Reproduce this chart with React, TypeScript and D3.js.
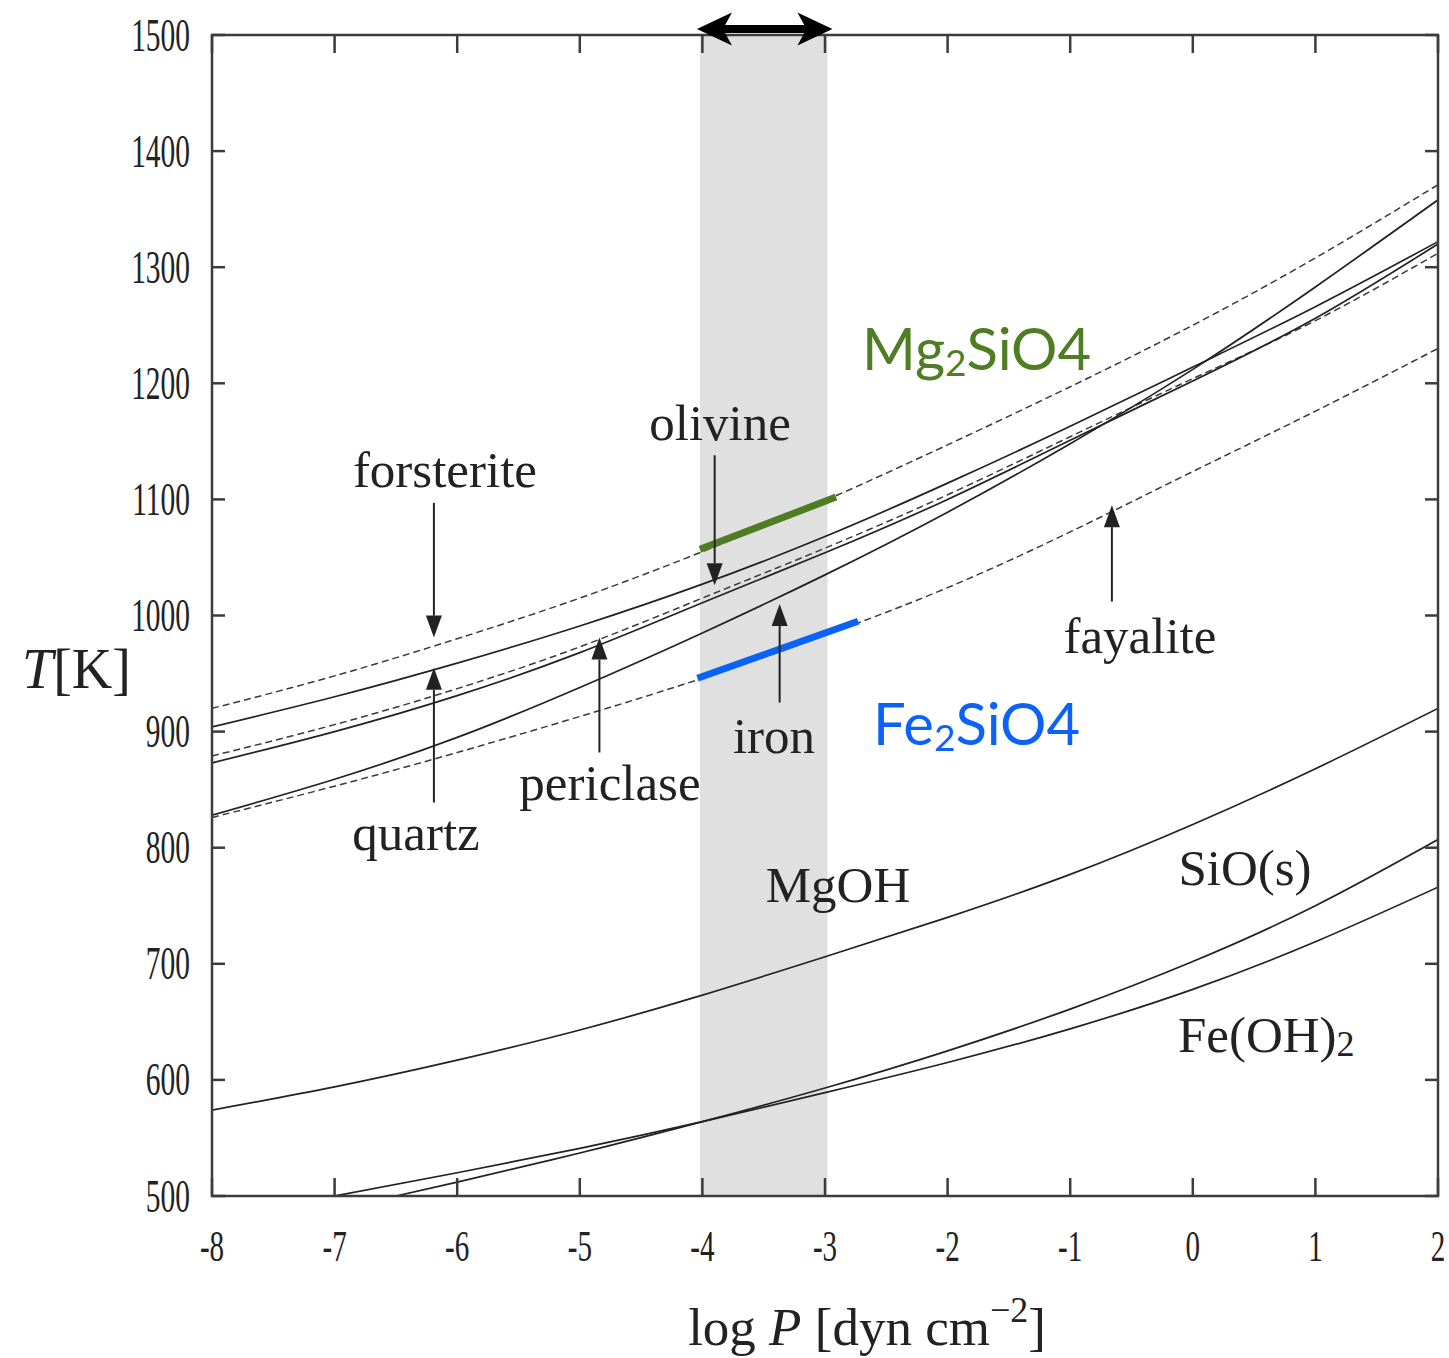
import React from "react";
import * as d3 from "d3";

// log P grid shared by the upper condensation curves
const logP = [-8, -7, -6, -5, -4, -3, -2, -1, 0, 1, 2];

// condensation temperatures T [K]
const forsterite = [920, 948, 980, 1015, 1055, 1099, 1147, 1197, 1250, 1308, 1371];
const quartz = [904, 930, 959, 991, 1027, 1068, 1114, 1163, 1214, 1266, 1322];
const periclase = [879, 906, 937, 973, 1015, 1058, 1104, 1154, 1204, 1254, 1312];
const olivine = [873, 900, 931, 968, 1011, 1054, 1100, 1151, 1202, 1256, 1320];
const iron = [828, 859, 895, 938, 985, 1035, 1089, 1148, 1212, 1283, 1358];
const fayalite = [826, 853, 882, 913, 946, 983, 1024, 1072, 1124, 1176, 1230];
const mgoh = [574, 594, 617, 643, 673, 706, 740, 777, 820, 868, 920];

const sioP = [-6.5, -6, -5, -4, -3, -2, -1, 0, 1, 2];
const sioT = [500, 512, 537, 564, 593, 625, 661, 702, 750, 807];
const feoh2P = [-7, -6, -5, -4, -3, -2, -1, 0, 1, 2];
const feoh2T = [500, 520, 541, 564, 589, 615, 644, 678, 719, 766];

// highlighted pressure window and coloured segments [logP, T]
const band = [-4.02, -2.98];
const mgSegment = [[-4.02, 1057], [-2.91, 1102]];
const feSegment = [[-4.04, 946], [-2.73, 995]];

// axis ticks
const xTicks = [-8, -7, -6, -5, -4, -3, -2, -1, 0, 1, 2];
const yTicks = [500, 600, 700, 800, 900, 1000, 1100, 1200, 1300, 1400, 1500];

// labelled arrows: [logP, T start, T tip]
const arrows = [
  [-6.19, 1097, 981], // forsterite
  [-6.19, 839, 955], // quartz
  [-4.84, 882, 981], // periclase
  [-3.9, 1138, 1026], // olivine
  [-3.37, 925, 1010], // iron
  [-0.66, 1012, 1095], // fayalite
];

// text labels: [text, logP, T]
const labels = [
  ["forsterite", -6.1, 1110.7],
  ["olivine", -3.856, 1151],
  ["quartz", -6.336, 798],
  ["periclase", -4.754, 841],
  ["iron", -3.416, 881.6],
  ["fayalite", -0.431, 967.7],
  ["MgOH", -2.894, 753],
  ["SiO(s)", 0.426, 767.9],
];

const W = 1449;
const H = 1358;
const left = 212;
const right = 1438;
const top = 35;
const bottom = 1196;

const serif = "'Liberation Serif', 'Times New Roman', serif";
const sans = "Lato, 'Open Sans', sans-serif";
const green = "#4e7d23";
const blue = "#0b62f8";

export default function App() {
  const x = d3.scaleLinear().domain([-8, 2]).range([left, right]);
  const y = d3.scaleLinear().domain([500, 1500]).range([bottom, top]);
  const line = d3
    .line<[number, number]>()
    .x((d) => x(d[0]))
    .y((d) => y(d[1]))
    .curve(d3.curveNatural);

  const zipP = (ts: number[]) => logP.map((p, i) => [p, ts[i]] as [number, number]);
  const curves = [
    { d: zipP(forsterite), dashed: true },
    { d: zipP(quartz), dashed: false },
    { d: zipP(periclase), dashed: true },
    { d: zipP(olivine), dashed: false },
    { d: zipP(iron), dashed: false },
    { d: zipP(fayalite), dashed: true },
    { d: zipP(mgoh), dashed: false },
    { d: sioP.map((p, i) => [p, sioT[i]] as [number, number]), dashed: false },
    { d: feoh2P.map((p, i) => [p, feoh2T[i]] as [number, number]), dashed: false },
  ];

  const bx0 = x(band[0]);
  const bx1 = x(band[1]);
  const ay = 29;
  const headL = 35;
  const headH = 16.5;
  const a0 = bx0 - 3;
  const a1 = bx1 + 5;

  return (
    <svg
      width={W}
      height={H}
      style={{ position: "absolute", left: 0, top: 0, display: "block", background: "#fff" }}
    >
      <defs>
        <clipPath id="plotArea">
          <rect x={left} y={top} width={right - left} height={bottom - top} />
        </clipPath>
      </defs>

      {/* shaded pressure window */}
      <rect x={bx0} y={top} width={bx1 - bx0} height={bottom - top} fill="#e0e0e0" />

      {/* condensation curves */}
      <g clipPath="url(#plotArea)" fill="none">
        {curves.map((c, i) => (
          <path
            key={i}
            d={line(c.d) || ""}
            stroke={c.dashed ? "#3a3a3a" : "#222"}
            strokeWidth={c.dashed ? 1.5 : 1.7}
            strokeDasharray={c.dashed ? "7,4" : undefined}
          />
        ))}
      </g>

      {/* coloured highlight segments */}
      <line
        x1={x(mgSegment[0][0])}
        y1={y(mgSegment[0][1])}
        x2={x(mgSegment[1][0])}
        y2={y(mgSegment[1][1])}
        stroke={green}
        strokeWidth={7}
      />
      <line
        x1={x(feSegment[0][0])}
        y1={y(feSegment[0][1])}
        x2={x(feSegment[1][0])}
        y2={y(feSegment[1][1])}
        stroke={blue}
        strokeWidth={7}
      />

      {/* labelled arrows */}
      {arrows.map(([p, t0, t1], i) => {
        const ax = x(p);
        const y0 = y(t0);
        const y1 = y(t1);
        const dir = y1 > y0 ? 1 : -1;
        const hl = 22;
        const hw = 8;
        return (
          <g key={i} fill="#222" stroke="#222">
            <line x1={ax} y1={y0} x2={ax} y2={y1 - dir * hl} strokeWidth={2} />
            <path
              d={`M${ax},${y1} L${ax - hw},${y1 - dir * hl} L${ax + hw},${y1 - dir * hl} Z`}
              stroke="none"
            />
          </g>
        );
      })}

      {/* frame */}
      <rect
        x={left}
        y={top}
        width={right - left}
        height={bottom - top}
        fill="none"
        stroke="#3c3c3c"
        strokeWidth={2.5}
      />

      {/* ticks */}
      <g stroke="#3c3c3c" strokeWidth={2.5}>
        {xTicks.map((t) => (
          <g key={"x" + t}>
            <line x1={x(t)} x2={x(t)} y1={bottom} y2={bottom - 18} />
            <line x1={x(t)} x2={x(t)} y1={top} y2={top + 18} />
          </g>
        ))}
        {yTicks.map((t) => (
          <g key={"y" + t}>
            <line x1={left} x2={left + 13} y1={y(t)} y2={y(t)} />
            <line x1={right} x2={right - 13} y1={y(t)} y2={y(t)} />
          </g>
        ))}
      </g>

      {/* tick labels */}
      <g fontFamily={serif} fill="#222">
        {xTicks.map((t) => (
          <text
            key={"xl" + t}
            transform={`translate(${x(t)}, 1261) scale(0.66, 1)`}
            fontSize={44}
            textAnchor="middle"
          >
            {t}
          </text>
        ))}
        {yTicks.map((t) => (
          <text
            key={"yl" + t}
            transform={`translate(190, ${y(t) + 15.5}) scale(0.64, 1)`}
            fontSize={46}
            textAnchor="end"
          >
            {t}
          </text>
        ))}
      </g>

      {/* double-headed arrow over the window */}
      <g fill="#000">
        <rect x={a0 + 20} y={ay - 4} width={a1 - a0 - 40} height={8} />
        <path
          d={`M${a0},${ay} L${a0 + headL},${ay - headH} L${a0 + headL - 9},${ay} L${a0 + headL},${ay + headH} Z`}
        />
        <path
          d={`M${a1},${ay} L${a1 - headL},${ay - headH} L${a1 - headL + 9},${ay} L${a1 - headL},${ay + headH} Z`}
        />
      </g>

      {/* curve labels */}
      <g fontFamily={serif} fill="#222" fontSize={51}>
        {labels.map(([txt, p, t]) => (
          <text key={txt as string} x={x(p as number)} y={y(t as number)} textAnchor="middle">
            {txt}
          </text>
        ))}
        <text x={x(-0.121)} y={y(624)}>
          Fe(OH)
          <tspan fontSize={36} dy={4}>
            2
          </tspan>
        </text>
      </g>

      {/* mineral names */}
      <text x={x(-2.698)} y={y(1211.5)} fontFamily={sans} fontSize={58} fill={green}>
        Mg
        <tspan fontSize={37} dy={6}>
          2
        </tspan>
        <tspan dy={-6}>SiO4</tspan>
      </text>
      <text x={x(-2.608)} y={y(888.5)} fontFamily={sans} fontSize={58} fill={blue}>
        Fe
        <tspan fontSize={37} dy={6}>
          2
        </tspan>
        <tspan dy={-6}>SiO4</tspan>
      </text>

      {/* axis titles */}
      <text x={22} y={688} fontFamily={serif} fontSize={56} fill="#222">
        <tspan fontStyle="italic">T</tspan>
        <tspan>[K]</tspan>
      </text>
      <text x={867} y={1345} fontFamily={serif} fontSize={53} fill="#222" textAnchor="middle">
        log <tspan fontStyle="italic">P</tspan> [dyn cm
        <tspan fontSize={36} dy={-23}>
          −2
        </tspan>
        <tspan dy={23}>]</tspan>
      </text>
    </svg>
  );
}
